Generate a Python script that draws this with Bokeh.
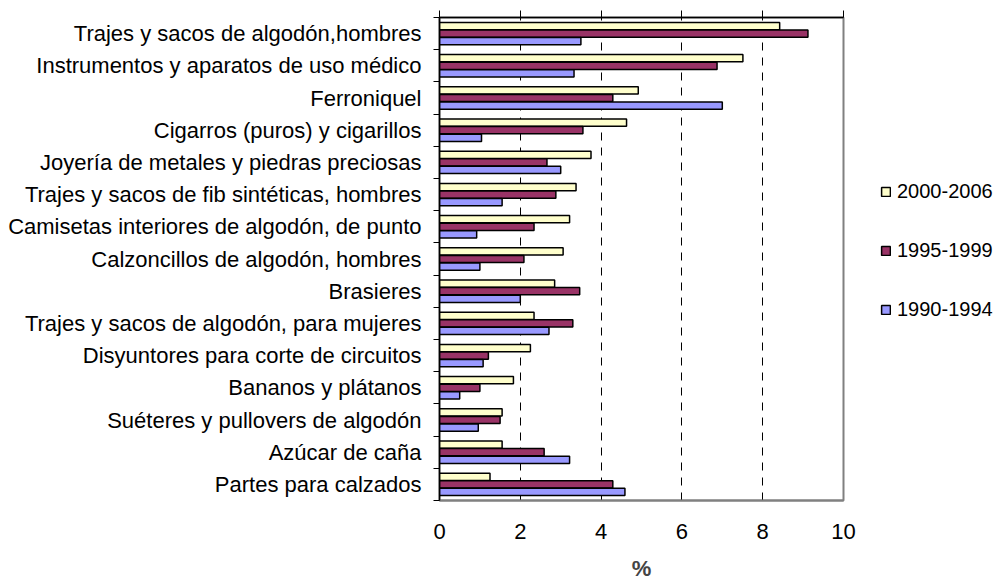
from bokeh.plotting import figure
from bokeh.layouts import row
from bokeh.models import (Range1d, FixedTicker, LinearAxis, Legend, LegendItem,
                          ColumnDataSource, Grid)
from bokeh.transform import dodge
from bokeh.embed import file_html
from bokeh.resources import INLINE

categories = [
    "Trajes y sacos de algodón,hombres",
    "Instrumentos y aparatos de uso médico",
    "Ferroniquel",
    "Cigarros (puros) y cigarillos",
    "Joyería de metales y piedras preciosas",
    "Trajes y sacos de fib sintéticas, hombres",
    "Camisetas interiores de algodón, de punto",
    "Calzoncillos de algodón, hombres",
    "Brasieres",
    "Trajes y sacos de algodón, para mujeres",
    "Disyuntores para corte de circuitos",
    "Bananos y plátanos",
    "Suéteres y pullovers de algodón",
    "Azúcar de caña",
    "Partes para calzados",
]
v2000_2006 = [8.42, 7.51, 4.92, 4.63, 3.75, 3.38, 3.22, 3.06, 2.85, 2.34, 2.25, 1.83, 1.55, 1.55, 1.25]
v1995_1999 = [9.12, 6.87, 4.29, 3.55, 2.66, 2.88, 2.34, 2.09, 3.47, 3.30, 1.21, 1.00, 1.50, 2.59, 4.29]
v1990_1994 = [3.50, 3.33, 7.00, 1.04, 3.00, 1.55, 0.92, 1.00, 2.00, 2.71, 1.08, 0.50, 0.96, 3.22, 4.59]
series_names = ["2000-2006", "1995-1999", "1990-1994"]
series_colors = ["#FFFFCC", "#993366", "#9999FF"]
x_ticks = [0, 2, 4, 6, 8, 10]

n = len(categories)
pos = [n - i - 0.5 for i in range(n)]
source = ColumnDataSource(dict(pos=pos, cat=categories, a=v2000_2006, b=v1995_1999, c=v1990_1994))

FONT = "Liberation Sans"
FS = "22px"

p = figure(width=870, height=583, x_range=Range1d(0, 10), y_range=Range1d(0, n),
           output_backend="svg", toolbar_location=None,
           x_axis_location=None, y_axis_location=None,
           min_border_left=439, min_border_top=17, min_border_right=27, min_border_bottom=79)
p.outline_line_color = "#808080"
p.outline_line_width = 2
p.ygrid.visible = False
p.xgrid.visible = False

# left category axis: labels at centers, ticks at boundaries
yax = LinearAxis(ticker=FixedTicker(ticks=pos, minor_ticks=list(range(n + 1))))
yax.major_label_overrides = {pv: c for pv, c in zip(pos, categories)}
yax.major_tick_out = 0
yax.major_tick_in = 0
yax.minor_tick_out = 6
yax.minor_tick_in = 0
yax.minor_tick_line_color = "black"
yax.axis_line_color = "black"
yax.axis_line_width = 1.5
yax.major_label_standoff = 12
yax.major_label_text_font = FONT
yax.major_label_text_font_size = FS
yax.major_label_text_color = "black"
p.add_layout(yax, "left")

# top axis line with outward ticks, no labels
tax = LinearAxis(ticker=FixedTicker(ticks=x_ticks, minor_ticks=[]))
tax.major_tick_out = 7
tax.major_tick_in = 0
tax.axis_line_color = "black"
tax.axis_line_width = 1.5
tax.major_label_text_font_size = "1px"
tax.major_label_text_color = None
tax.major_label_standoff = 0
p.add_layout(tax, "above")

# bottom axis labels
bax = LinearAxis(ticker=FixedTicker(ticks=x_ticks, minor_ticks=[]), axis_label="%")
bax.major_tick_out = 0
bax.major_tick_in = 0
bax.minor_tick_out = 0
bax.axis_line_color = "#808080"
bax.axis_line_width = 2
bax.major_label_standoff = 23
bax.major_label_text_font = FONT
bax.major_label_text_font_size = FS
bax.major_label_text_line_height = 1.0
bax.major_label_text_color = "black"
bax.axis_label_text_font = FONT
bax.axis_label_text_font_size = FS
bax.axis_label_text_line_height = 1.0
bax.axis_label_text_font_style = "bold"
bax.axis_label_standoff = 14
p.add_layout(bax, "below")

# dashed gridlines
g = Grid(dimension=0, ticker=FixedTicker(ticks=[2, 4, 6, 8]))
g.grid_line_color = "black"
g.grid_line_dash = "8 7"
g.grid_line_width = 1
p.add_layout(g)

h = 0.225
off = 0.235
for col, dy, color in zip(["a", "b", "c"], [off, 0, -off], series_colors):
    p.hbar(y=dodge("pos", dy, range=p.y_range), right=col, left=0, height=h, source=source,
           fill_color=color, line_color="black", line_width=1.5)

# legend panel: hidden copies of the series supply the legend swatches
lp = figure(width=133, height=583, x_range=Range1d(0, 10), y_range=Range1d(0, n),
            output_backend="svg", toolbar_location=None,
            x_axis_location=None, y_axis_location=None,
            min_border_left=0, min_border_right=0, min_border_top=0, min_border_bottom=0)
lp.outline_line_color = None
lp.xgrid.visible = False
lp.ygrid.visible = False
items = []
for name, col, color in zip(series_names, ["a", "b", "c"], series_colors):
    r = lp.hbar(y="pos", right=col, left=0, height=h, source=source,
                fill_color=color, line_color="black", line_width=1.5)
    r.visible = False
    items.append(LegendItem(label=name, renderers=[r]))

legend = Legend(items=items, location=(10, 179), orientation="vertical")
legend.glyph_width = 11
legend.glyph_height = 11
legend.label_height = 21
legend.spacing = 36
legend.padding = 0
legend.margin = 0
legend.label_standoff = 6
legend.border_line_color = None
legend.background_fill_alpha = 0
legend.inactive_fill_alpha = 0
legend.label_text_font = FONT
legend.label_text_font_size = "20px"
legend.label_text_color = "black"
lp.add_layout(legend, "center")

layout = row(p, lp, spacing=0)
open("out.html", "w").write(file_html(layout, INLINE))
